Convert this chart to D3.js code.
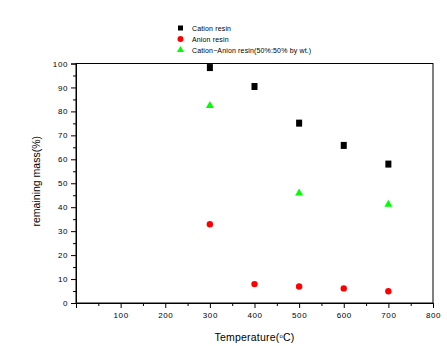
<!DOCTYPE html>
<html>
<head>
<meta charset="utf-8">
<script src="https://cdn.jsdelivr.net/npm/d3@7"></script>
<style>
  html, body { margin: 0; padding: 0; background: #fff; }
  svg { display: block; font-family: "Liberation Sans", Arial, sans-serif; }
</style>
</head>
<body>
<svg id="chart" width="447" height="346"></svg>
<script>
// Temperatures (°C) at which samples were measured
const temperatures = [300, 400, 500, 600, 700];
const mixedTemperatures = [300, 500, 700];

// Remaining mass (%) for each resin type
const cationMass = [98.3, 90.4, 75.1, 65.8, 58.0];
const anionMass = [32.9, 7.9, 6.9, 6.1, 4.9];
const mixedMass = [82.4, 45.9, 41.2];

// Axis ticks
const xTicks = [100, 200, 300, 400, 500, 600, 700, 800];
const yTicks = [0, 10, 20, 30, 40, 50, 60, 70, 80, 90, 100];

const seriesNames = ["Cation resin", "Anion resin", "Cation\u2212Anion resin(50%:50% by wt.)"];

const svg = d3.select("#chart");
const margin = { left: 76, right: 14, top: 63.5, bottom: 43 };
const W = 447, H = 346;

const x = d3.scaleLinear().domain([0, 800]).range([margin.left, W - margin.right]);
const y = d3.scaleLinear().domain([0, 100]).range([H - margin.bottom, margin.top]);

// Frame
svg.append("rect")
  .attr("x", x(0)).attr("y", y(100))
  .attr("width", x(800) - x(0)).attr("height", y(0) - y(100))
  .attr("fill", "none").attr("stroke", "#000").attr("stroke-width", 1);

// Minor ticks
const xMinor = d3.range(50, 800, 100);
const yMinor = d3.range(5, 100, 10);

svg.append("g").attr("transform", `translate(0,${y(0)})`)
  .call(d3.axisBottom(x).tickValues(xTicks).tickSize(5).tickPadding(4).tickFormat(d3.format("d")));
svg.append("g").attr("transform", `translate(0,${y(0)})`)
  .call(d3.axisBottom(x).tickValues(xMinor).tickSize(3).tickFormat(""))
  .call(g => g.select(".domain").remove());

svg.append("g").attr("transform", `translate(${x(0)},0)`)
  .call(d3.axisLeft(y).tickValues(yTicks).tickSize(5).tickPadding(3).tickFormat(d3.format("d")));
svg.append("g").attr("transform", `translate(${x(0)},0)`)
  .call(d3.axisLeft(y).tickValues(yMinor).tickSize(3).tickFormat(""))
  .call(g => g.select(".domain").remove());

svg.selectAll(".tick text").attr("font-size", 8).attr("fill", "#000")
  .attr("letter-spacing", 0.6)
  .attr("font-family", "Liberation Sans, Arial, sans-serif");
svg.selectAll(".domain, .tick line").attr("stroke", "#000");

// Axis titles
svg.append("text")
  .attr("x", (x(0) + x(800)) / 2).attr("y", 341)
  .attr("text-anchor", "middle").attr("font-size", 10.5).attr("letter-spacing", 0.2)
  .html("Temperature(<tspan baseline-shift='super' font-size='6'>o</tspan>C)");

svg.append("text")
  .attr("transform", `translate(40,${(y(0) + y(100)) / 2 - 2}) rotate(-90)`)
  .attr("text-anchor", "middle").attr("font-size", 10.5)
  .text("remaining mass(%)");

// Markers
const plot = svg.append("g");

plot.selectAll("rect.cation").data(temperatures).join("rect")
  .attr("class", "cation")
  .attr("x", (d) => x(d) - 3).attr("y", (d, i) => y(cationMass[i]) - 3.5)
  .attr("width", 6).attr("height", 7).attr("fill", "#000");

plot.selectAll("circle.anion").data(temperatures).join("circle")
  .attr("class", "anion")
  .attr("cx", (d) => x(d)).attr("cy", (d, i) => y(anionMass[i]))
  .attr("r", 3.2).attr("fill", "#ff0000");

const tri = d3.symbol().type(d3.symbolTriangle).size(28);
plot.selectAll("path.mixed").data(mixedTemperatures).join("path")
  .attr("class", "mixed")
  .attr("transform", (d, i) => `translate(${x(d)},${y(mixedMass[i])})`)
  .attr("d", tri).attr("fill", "#00ff00");

// Legend
const legend = svg.append("g");
const rows = [28, 39, 50];
legend.append("rect").attr("x", 178).attr("y", rows[0] - 2.5).attr("width", 5).attr("height", 5).attr("fill", "#000");
legend.append("circle").attr("cx", 180.5).attr("cy", rows[1]).attr("r", 3).attr("fill", "#ff0000");
legend.append("path").attr("transform", `translate(180.5,${rows[2]})`)
  .attr("d", d3.symbol().type(d3.symbolTriangle).size(22)).attr("fill", "#00ff00");
legend.selectAll("text").data(seriesNames).join("text")
  .attr("x", 192).attr("y", (d, i) => rows[i] + 2.5)
  .attr("font-size", 7).attr("letter-spacing", 0.15).text(d => d);
</script>
</body>
</html>
